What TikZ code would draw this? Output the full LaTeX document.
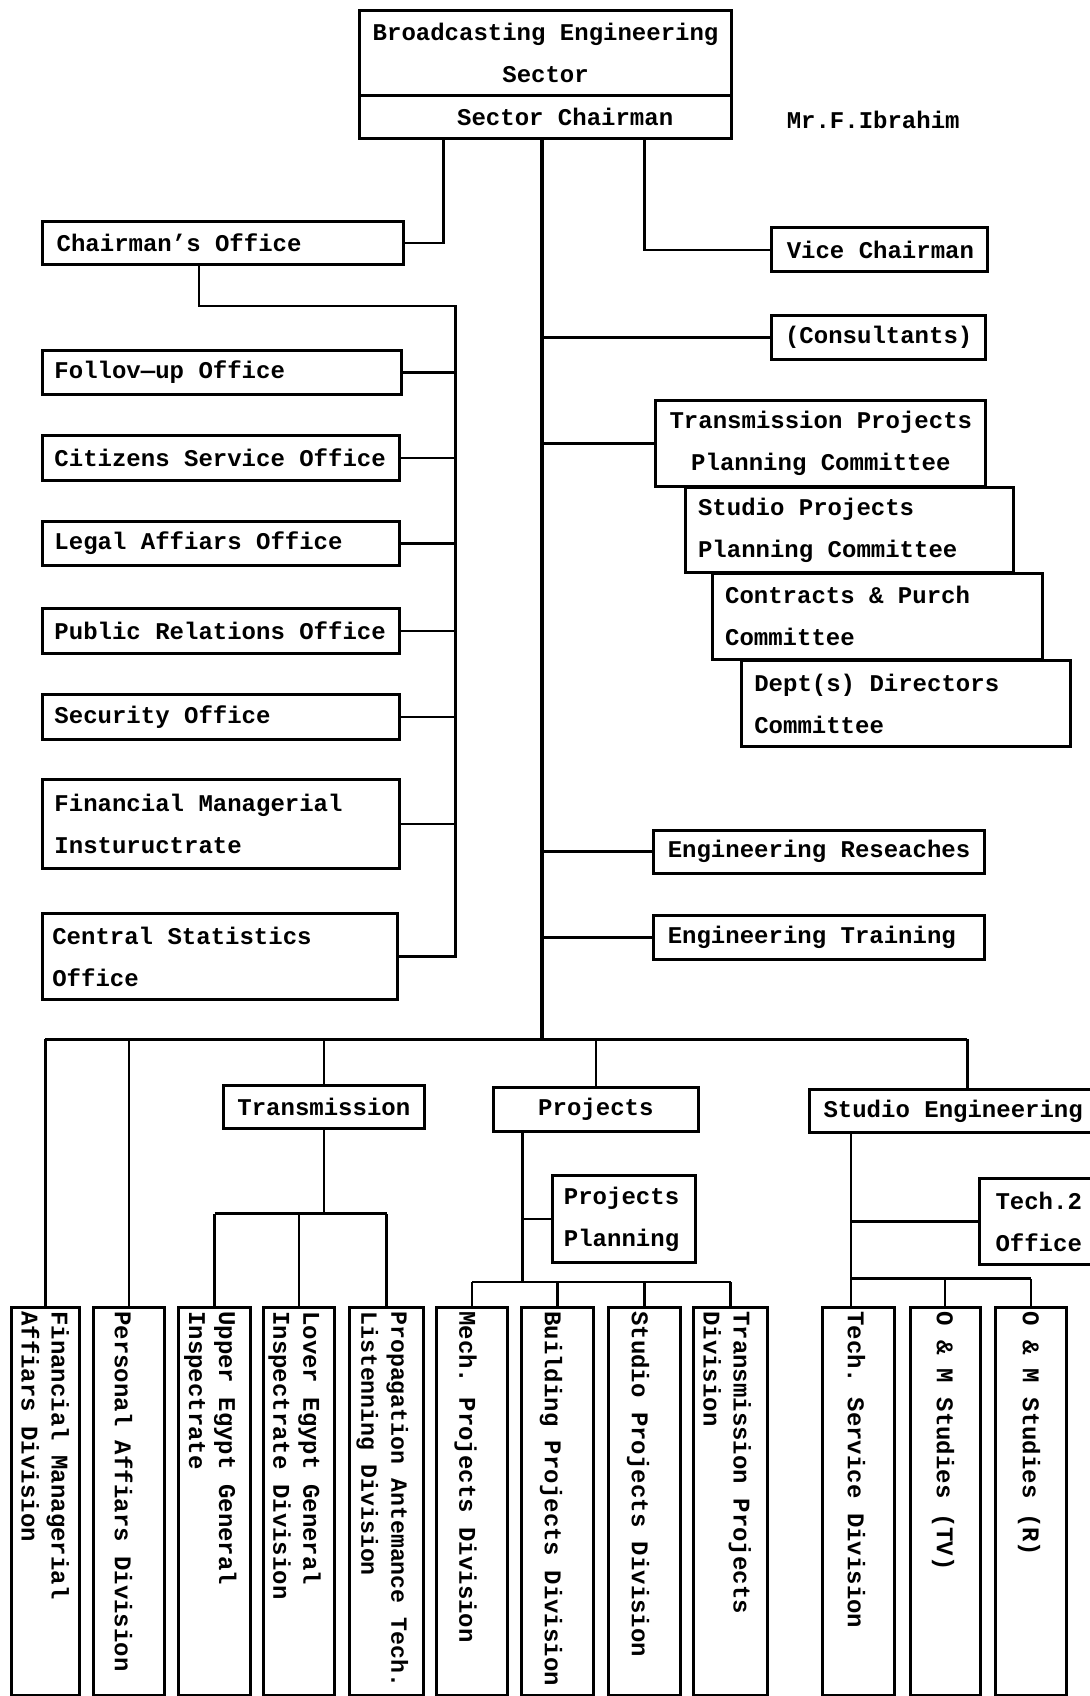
\documentclass[tikz,border=0pt]{standalone}
\usepackage{fontspec}
\newfontfamily\orgfont{Liberation Mono}
\usetikzlibrary{calc}
\tikzset{
  orgtxt/.style={font=\orgfont\bfseries\fontsize{12pt}{21pt}\selectfont\frenchspacing},
  orgbx/.style={draw, line width=1.5pt, inner sep=0pt, anchor=north west},
  hlabel/.style={orgtxt, inner sep=0pt},
  link/.style={line width=1.2pt},
  trunk/.style={line width=1.6pt},
  vlabel/.style={font=\orgfont\bfseries\fontsize{12pt}{15pt}\selectfont\frenchspacing, rotate=-90, anchor=west, align=left, inner sep=0pt},
}
% name, x1, y1, x2, y2, x-shift of label, label anchor (west/center/east), align, text
\newcommand{\orgbox}[9]{%
  \pgfmathsetlengthmacro\orgW{(#4-#2)*0.5407pt}%
  \pgfmathsetlengthmacro\orgH{(#5-#3)*0.5407pt}%
  \node[orgbx, minimum width=\orgW, minimum height=\orgH] (#1) at (#2,#3) {};
  \node[hlabel, anchor=#7, align=#8] (#1t) at ($(#1.#7)+(#6,0)$) {#9};}
% name, x1, x2, label offset, label options, text  (tall division boxes)
\newcommand{\orgdiv}[6]{%
  \pgfmathsetlengthmacro\orgW{(#3-#2)*0.5407pt}%
  \pgfmathsetlengthmacro\orgH{359*0.5407pt}%
  \node[orgbx, minimum width=\orgW, minimum height=\orgH] (#1) at (#2,1207) {};
  \node[vlabel, #5] (#1t) at ($(#1.north)+(#4,5)$) {#6};}
\begin{document}
\begin{tikzpicture}[x=0.5407pt, y=-0.5407pt]
\path[use as bounding box, fill=white] (0,0) rectangle (1007,1568);

% ---- top
\orgbox{sector}{331}{8}{675}{87}{0}{center}{center}{Broadcasting Engineering\\Sector}
\orgbox{chairm}{331}{87}{675}{127}{-55}{east}{right}{Sector Chairman}
\node[hlabel, anchor=west] (mrf) at (727,111) {Mr.F.Ibrahim};

% ---- left column
\orgbox{chair}{38}{203}{372}{243}{14}{west}{left}{Chairman’s Office}
\orgbox{follow}{38}{323}{370}{363}{12}{west}{left}{Follov—up Office}
\orgbox{citizens}{38}{401}{368}{443}{12}{west}{left}{Citizens Service Office}
\orgbox{legal}{38}{481}{368}{521}{12}{west}{left}{Legal Affiars Office}
\orgbox{public}{38}{561}{368}{603}{12}{west}{left}{Public Relations Office}
\orgbox{security}{38}{641}{368}{682}{12}{west}{left}{Security Office}
\orgbox{finman}{38}{719}{368}{802}{12}{west}{left}{Financial Managerial\\Instuructrate}
\orgbox{central}{38}{843}{366}{923}{10}{west}{left}{Central Statistics\\Office}

% ---- right column
\orgbox{vice}{712}{209}{912}{250}{15}{west}{left}{Vice Chairman}
\orgbox{consult}{712}{290}{910}{331}{0}{center}{center}{(Consultants)}
\orgbox{tppc}{605}{369}{910}{448}{0}{center}{center}{Transmission Projects\\Planning Committee}
\orgbox{sppc}{632}{449}{936}{528}{13}{west}{left}{Studio Projects\\Planning Committee}
\orgbox{cpc}{657}{529}{962}{608}{13}{west}{left}{Contracts \& Purch\\Committee}
\orgbox{ddc}{684}{609}{988}{689}{13}{west}{left}{Dept(s) Directors\\Committee}
\orgbox{engres}{603}{766}{909}{806}{14}{west}{left}{Engineering Reseaches}
\orgbox{engtr}{603}{845}{909}{886}{14}{west}{left}{Engineering Training}

% ---- lower level
\orgbox{transm}{205}{1002}{391}{1042}{0}{center}{center}{Transmission}
\orgbox{proj}{455}{1004}{644}{1045}{0}{center}{center}{Projects}
\orgbox{studeng}{747}{1006}{1039}{1046}{14}{west}{left}{Studio Engineering}
\orgbox{pplan}{509}{1085}{642}{1166}{12}{west}{left}{Projects\\Planning}
\orgbox{tech2}{904}{1088}{1040}{1168}{16}{west}{left}{Tech.2\\Office}

% ---- divisions
\orgdiv{d1}{9}{72}{0}{}{Financial Managerial\\Affiars Division}
\orgdiv{d2}{85}{151}{-5}{}{Personal Affiars Division}
\orgdiv{d3}{164}{230}{-4}{}{Upper Egypt General\\Inspectrate}
\orgdiv{d4}{242}{308}{-4}{}{Lover Egypt General\\Inspectrate Division}
\orgdiv{d5}{322}{390}{-4}{font=\orgfont\bfseries\fontsize{11.6pt}{15pt}\selectfont\frenchspacing}{Propagation Antemance Tech.\\Listenning Division}
\orgdiv{d6}{402}{468}{-6}{}{Mech. Projects Division}
\orgdiv{d7}{481}{547}{-6}{}{Building Projects Division}
\orgdiv{d8}{561}{628}{-6}{}{Studio Projects Division}
\orgdiv{d9}{640}{708}{-3}{}{Transmission Projects\\Division}
\orgdiv{d10}{759}{826}{-2}{}{Tech. Service Division}
\orgdiv{d11}{840}{905}{-2}{}{O \& M Studies (TV)}
\orgdiv{d12}{919}{985}{-2}{}{O \& M Studies (R)}

% ---- connectors
\coordinate (bus) at (0,961);
\coordinate (lt) at (421,283);
\coordinate (tbus) at (0,1122);
\coordinate (pbus) at (0,1185);
\coordinate (sbus) at (0,1182);

\draw[link] (chairm.south west) ++(79,0) |- (chair.east);
\draw[link] (chairm.south west) ++(265,0) |- (vice.west);
\draw[trunk] (chairm.south west) ++(170,0) coordinate (trk) -- (trk |- bus);

\draw[link] (chair.south west) ++(146,0) |- (lt) |- (central.east);
\foreach \n in {follow,citizens,legal,public,security,finman}
  \draw[link] (\n.east) -- (\n.east -| lt);

\foreach \n in {consult,tppc,engres,engtr}
  \draw[link] (\n.west) -- (\n.west -| trk);

\draw[link] (d1.north |- bus) -- (studeng.north |- bus);
\foreach \n in {d1,d2,transm,proj,studeng}
  \draw[link] (\n.north) -- (\n.north |- bus);

\draw[link] (transm.south) -- (transm.south |- tbus);
\draw[link] (d3.north |- tbus) -- (d5.north |- tbus);
\foreach \n in {d3,d4,d5}
  \draw[link] (\n.north) -- (\n.north |- tbus);

\draw[link] (proj.south west) ++(28,0) coordinate (pd) -- (pd |- pbus);
\draw[link] (pd |- pplan.west) -- (pplan.west);
\draw[link] (d6.north |- pbus) -- (d9.north |- pbus);
\foreach \n in {d6,d7,d8,d9}
  \draw[link] (\n.north) -- (\n.north |- pbus);

\draw[link] (studeng.south west) ++(40,0) coordinate (sd) -- (sd |- d10.north);
\draw[link] (sd |- tech2.west) -- (tech2.west);
\draw[link] (sd |- sbus) -- (d12.north |- sbus);
\foreach \n in {d11,d12}
  \draw[link] (\n.north) -- (\n.north |- sbus);
\end{tikzpicture}
\end{document}
